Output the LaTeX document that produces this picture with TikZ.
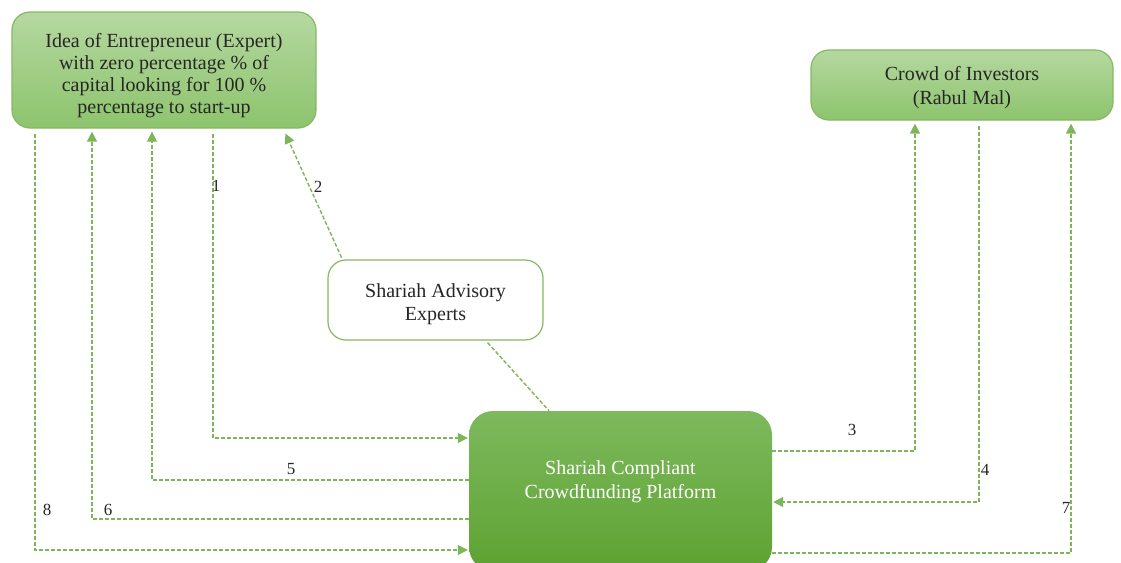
\documentclass[tikz,border=0pt]{standalone}
\usepackage{fontspec}
\setmainfont{Liberation Serif}
\usetikzlibrary{arrows.meta,calc}
\definecolor{gline}{HTML}{70AD47}
\definecolor{ltop}{HTML}{B5D8A0}
\definecolor{lbot}{HTML}{8DC46D}
\definecolor{dtop}{HTML}{7DB95D}
\definecolor{dbot}{HTML}{5EA232}
\newcommand{\boxtext}[3]{\raisebox{#1}[0pt][0pt]{\parbox{#2}{\centering #3}}}
\tikzset{
  lightbox/.style={draw=gline!85, line width=1.2pt, rounded corners=18pt, top color=ltop, bottom color=lbot, align=center, font=\fontsize{20}{22}\selectfont, text=black!85, inner sep=0pt},
  whitebox/.style={draw=gline!85, line width=1.2pt, rounded corners=18pt, fill=white, align=center, font=\fontsize{20}{23}\selectfont, text=black!85, inner sep=0pt},
  darkbox/.style={draw=none, rounded corners=24pt, top color=dtop, bottom color=dbot, align=center, font=\fontsize{20}{24}\selectfont, text=white, inner sep=0pt},
  dl/.style={draw=gline!90, line width=1.4pt, dash pattern=on 4pt off 2pt},
  tip/.style={-{Triangle[length=10pt,width=10pt]}, shorten >=1pt},
  num/.style={font=\fontsize{17}{17}\selectfont, text=black!85, inner sep=1pt}
}
\begin{document}
\begin{tikzpicture}[x=1pt,y=-1pt]
\useasboundingbox (0,0) rectangle (1121,562);
\begin{scope}
\clip (0,0) rectangle (1121,562);
\node[lightbox, minimum width=304pt, minimum height=116pt] (ent) at (164,70) {\boxtext{-10.5pt}{300pt}{Idea of Entrepreneur (Expert)\\with zero percentage \% of\\capital looking for 100 \%\\percentage to start-up}};
\node[lightbox, minimum width=302pt, minimum height=70pt] (inv) at (962,85) {\boxtext{-8pt}{290pt}{\baselineskip=24pt Crowd of Investors\\(Rabul Mal)}};
\node[whitebox, minimum width=215pt, minimum height=80pt] (adv) at (435.5,300) {\boxtext{-9.5pt}{210pt}{Shariah Advisory\\Experts}};
\node[darkbox, minimum width=303pt, minimum height=160pt] (plat) at (620.5,491) {\boxtext{4pt}{300pt}{Shariah Compliant\\Crowdfunding Platform}};
\end{scope}
% columns and rows
\coordinate (c1) at (213,0);
\coordinate (c2) at (285,0);
\coordinate (c5) at (152,0);
\coordinate (c6) at (92,0);
\coordinate (c8) at (35,0);
\coordinate (c9) at (549,0);
\coordinate (c3) at (915,0);
\coordinate (c4) at (979,0);
\coordinate (c7) at (1071,0);
\coordinate (r1) at (0,438);
\coordinate (r5) at (0,480);
\coordinate (r6) at (0,519);
\coordinate (r8) at (0,550);
\coordinate (r3) at (0,451);
\coordinate (r4) at (0,502);
\coordinate (r7) at (0,553);
% connectors
\draw[dl,tip,shorten <=5pt] (ent.south -| c1) |- (plat.west |- r1);
\draw[dl,tip,shorten <=2pt] ([xshift=15pt]adv.north west) -- ([yshift=-4pt]ent.south -| c2);
\draw[dl] ([xshift=-56pt,yshift=-2pt]adv.south east) -- (plat.north -| c9);
\draw[dl,tip] (plat.west |- r5) -| ([yshift=-2pt]ent.south -| c5);
\draw[dl,tip] (plat.west |- r6) -| ([yshift=-2pt]ent.south -| c6);
\draw[dl,tip,shorten <=5pt] (ent.south -| c8) |- (plat.west |- r8);
\draw[dl,tip] (plat.east |- r3) -| ([yshift=-2pt]inv.south -| c3);
\draw[dl,tip,shorten <=5pt] (inv.south -| c4) |- (plat.east |- r4);
\draw[dl,tip] (plat.east |- r7) -| ([yshift=-2pt]inv.south -| c7);
% labels
\node[num] (n1) at (216,186) {1};
\node[num] (n2) at (318,187) {2};
\node[num] (n3) at (852,430) {3};
\node[num] (n4) at (985,470) {4};
\node[num] (n5) at (291,469) {5};
\node[num] (n6) at (108,510) {6};
\node[num] (n7) at (1066,508) {7};
\node[num] (n8) at (47,510) {8};
\end{tikzpicture}
\end{document}
